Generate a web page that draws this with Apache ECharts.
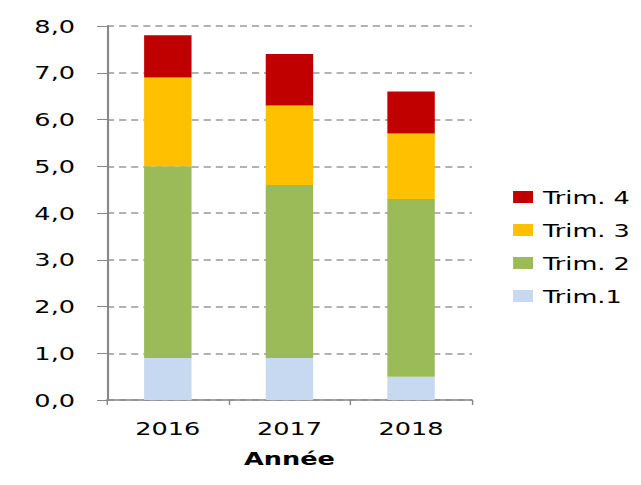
<!DOCTYPE html>
<html><head><meta charset="utf-8">
<script src="https://cdn.jsdelivr.net/npm/echarts@6/dist/echarts.min.js"></script>
<style>html,body{margin:0;padding:0;background:#fff;overflow:hidden}
#c{width:451px;height:485px;transform:scaleX(1.421286);transform-origin:0 0}</style>
</head><body><div id="c"></div>
<script>
const categories = ['2016', '2017', '2018'];
const trim1 = [0.9, 0.9, 0.5];
const trim2 = [4.1, 3.7, 3.8];
const trim3 = [1.9, 1.7, 1.4];
const trim4 = [0.9, 1.1, 0.9];
const seriesNames = ['Trim.1', 'Trim. 2', 'Trim. 3', 'Trim. 4'];
const legendOrder = ['Trim. 4', 'Trim. 3', 'Trim. 2', 'Trim.1'];
const colors = ['#C6D9F1', '#9BBB59', '#FFC000', '#C00000'];
const font = 'DejaVu Sans';
const chart = echarts.init(document.getElementById('c'), null, {renderer: 'svg'});
const vals = [trim1, trim2, trim3, trim4];
chart.setOption({
  animation: false,
  textStyle: {fontFamily: font},
  grid: {left: 75.3, right: 119, top: 26, bottom: 85},
  legend: {
    orient: 'vertical', left: 356, top: 182,
    data: legendOrder,
    itemWidth: 14, itemHeight: 12, itemGap: 13,
    icon: 'rect',
    textStyle: {fontFamily: font, fontSize: 18, color: '#000', lineHeight: 20, padding: [0, 0, 0, 2]}
  },
  xAxis: {
    type: 'category', data: categories,
    name: 'Année', nameLocation: 'middle', nameGap: 49,
    nameTextStyle: {fontFamily: font, fontSize: 18, fontWeight: 'bold', color: '#000'},
    axisLine: {lineStyle: {color: '#888', width: 1.5}},
    axisTick: {show: true, alignWithLabel: false, length: 5, lineStyle: {color: '#888'}},
    axisLabel: {fontFamily: font, fontSize: 18, color: '#000', margin: 19}
  },
  yAxis: {
    type: 'value', min: 0, max: 8, interval: 1,
    axisLine: {show: true, lineStyle: {color: '#888', width: 1.5}},
    axisTick: {show: true, length: 7, lineStyle: {color: '#888'}},
    axisLabel: {fontFamily: font, fontSize: 18, color: '#000', margin: 22.5,
      formatter: v => v.toFixed(1).replace('.', ',')},
    splitLine: {lineStyle: {type: [5, 3.5], color: '#999', width: 1.5}}
  },
  series: vals.map((d, i) => ({
    name: seriesNames[i], type: 'bar', stack: 'total', data: d,
    barWidth: '39%', itemStyle: {color: colors[i]}
  }))
});
</script></body></html>
